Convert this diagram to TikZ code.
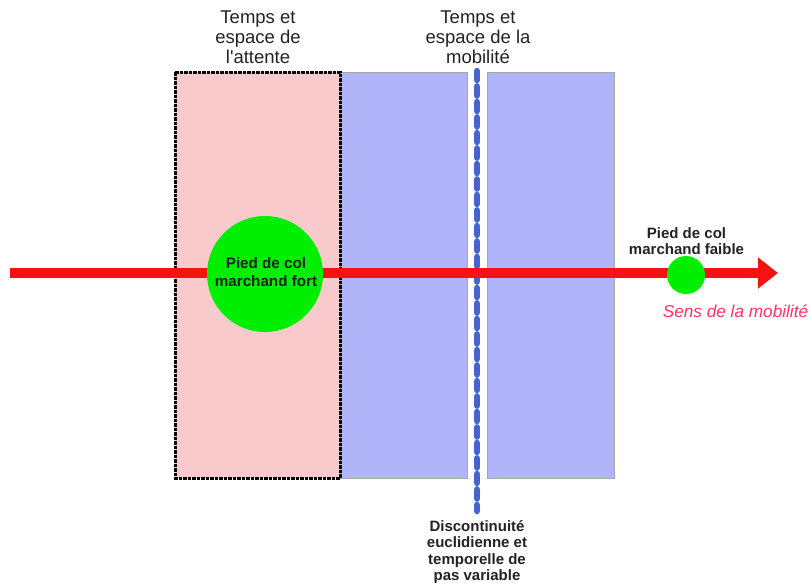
\documentclass[tikz,border=0pt]{standalone}
\usepackage{fontspec}
\setmainfont{Liberation Sans}
\usetikzlibrary{arrows.meta}
\definecolor{pinkf}{HTML}{F8CACB}
\definecolor{bluef}{HTML}{B0B4F8}
\definecolor{blued}{HTML}{4466CC}
\definecolor{arrred}{HTML}{F41313}
\definecolor{greenc}{HTML}{00EE00}
\definecolor{sensc}{HTML}{FF3366}
\definecolor{txt}{HTML}{222222}
\tikzset{
  zone/.style={fill=bluef, draw=gray!70, line width=0.8pt},
  wait/.style={fill=pinkf, draw=black, line width=3pt, dash pattern=on 3.5pt off 1pt},
  title/.style={align=center, inner sep=0pt, font=\fontsize{18.5}{20}\selectfont, text=txt},
  small/.style={align=center, inner sep=0pt, font=\bfseries\fontsize{15}{16.2}\selectfont, text=txt},
  circ/.style={circle, fill=greenc, inner sep=0pt, minimum size=#1},
}
\begin{document}
\begin{tikzpicture}[x=1pt,y=-1pt]
\useasboundingbox (0,0) rectangle (811,582);
% zones
\draw[wait] (175,72) rectangle (340,478);
\draw[zone] (340,72) rectangle (467,478);
\draw[zone] (487,72) rectangle (614,478);
\draw[wait, fill=none] (175,72) rectangle (340,478);
% discontinuity
\coordinate (dtop) at (477,71);
\coordinate (dbot) at (477,511);
\draw[blued, line width=6.5pt, line cap=round, dash pattern=on 9pt off 6.5pt] (dtop) -- (dbot);
% arrow
\coordinate (astart) at (10,273);
\coordinate (aend) at (778,273);
\draw[arrred, line width=10pt, -{Triangle[length=20pt,width=30pt]}] (astart) -- (aend);
% circles
\node[circ=116pt] (fort) at (265,274) {};
\node[small, font=\bfseries\fontsize{15.2}{18}\selectfont] (lfort) at (266,272) {Pied de col\\marchand fort};
\node[circ=38pt] (faible) at (686,275) {};
\node[small] (lfaible) at (686.5,241) {Pied de col\\marchand faible};
\node[font=\itshape\fontsize{17.2}{20}\selectfont, text=sensc, inner sep=0pt] (sens) at (735.5,311) {Sens de la mobilité};
% titles
\node[title] (t1) at (258,37) {Temps et\\espace de\\l\textquotesingle attente};
\node[title] (t2) at (478,37) {Temps et\\espace de la\\mobilité};
\node[small] (disc) at (477,552) {Discontinuité\\euclidienne et\\temporelle de\\pas variable};
\end{tikzpicture}
\end{document}
